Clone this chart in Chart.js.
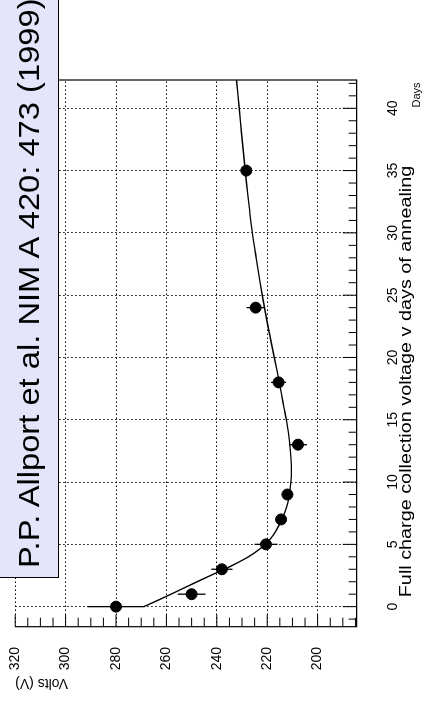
<!DOCTYPE html>
<html>
<head>
<meta charset="utf-8">
<script src="https://cdn.jsdelivr.net/npm/chart.js@4.4.1/dist/chart.umd.min.js"></script>
<style>
  html, body { margin: 0; padding: 0; background: #fff; }
  body { width: 429px; height: 704px; position: relative; overflow: hidden; font-family: "Liberation Sans", Arial, sans-serif; }
  /* the chart is drawn upright and turned a quarter turn to the left */
  #wrap { position: absolute; left: 0; top: 0; width: 704px; height: 429px; transform-origin: 0 0; transform: translateY(704px) rotate(-90deg); }
  #ref { position: absolute; left: 0; top: 0; width: 588px; height: 59px; box-sizing: border-box;
         transform-origin: 0 0; transform: translateY(578px) rotate(-90deg);
         background: #e4e4fa; border-left: 1px solid #000; border-bottom: 1px solid #000;
         font-size: 30px; line-height: 57px; padding-left: 9px; white-space: nowrap; color: #000; }
  #ref span { display: inline-block; transform-origin: 0 50%; transform: scaleX(1.09); }
</style>
</head>
<body>
<div id="wrap"><canvas id="annealChart" width="704" height="429"></canvas></div>
<div id="ref"><span>P.P. Allport et al. NIM A 420: 473 (1999)</span></div>
<script>
// measured points
const days = [0, 1, 3, 5, 7, 9, 13, 18, 24, 35];
const volts = [280, 250, 238, 220.5, 214.5, 212, 207.8, 215.5, 224.6, 228.3];
const voltErr = [11.3, 5.5, 4.2, 4.6, 2, 2.3, 3.6, 3, 3.6, 1.5];

// fitted curve
const fitDays = [0, 0.5, 1, 1.5, 2, 2.5, 3, 3.5, 4, 4.5, 5, 5.5, 6, 7, 8, 9, 10, 11, 12, 13, 14, 15, 16, 17, 18, 20, 22, 24, 26, 28, 30, 32, 34, 36, 38, 40, 42.27];
const fitVolts = [269, 263.5, 258.2, 253, 247.8, 242.5, 237, 232, 227.5, 223.8, 220.8, 218.5, 216.8, 214.2, 212.3, 211.2, 210.6, 210.4, 210.6, 211, 211.6, 212.4, 213.4, 214.3, 215.2, 217.2, 219.2, 221.1, 222.8, 224.4, 225.9, 227.1, 228.2, 229.2, 230.2, 231.1, 232.2];

const dayTicks = [0, 5, 10, 15, 20, 25, 30, 35, 40];
const voltTicks = [200, 220, 240, 260, 280, 300, 320];

const FONT = '"Liberation Sans", Arial, sans-serif';
const TITLE = 'Full charge collection voltage v days of annealing';

// error bars, frame, inward minor ticks, title and the "Days" unit
const plotExtras = {
  id: 'plotExtras',
  beforeDatasetsDraw(chart) {
    const { ctx, scales: { x, y } } = chart;
    ctx.save();
    ctx.strokeStyle = '#000';
    ctx.lineWidth = 1.3;
    days.forEach((d, i) => {
      const px = x.getPixelForValue(d);
      ctx.beginPath();
      ctx.moveTo(px, y.getPixelForValue(volts[i] - voltErr[i]));
      ctx.lineTo(px, y.getPixelForValue(volts[i] + voltErr[i]));
      ctx.stroke();
    });
    ctx.restore();
  },
  afterDraw(chart) {
    const { ctx, chartArea: a, scales: { x, y } } = chart;
    ctx.save();
    ctx.strokeStyle = '#000';
    ctx.lineWidth = 1.2;
    ctx.beginPath();
    ctx.moveTo(a.left, a.top);
    ctx.lineTo(a.left, a.bottom);
    ctx.lineTo(a.right, a.bottom);
    ctx.lineTo(a.right, a.top);
    ctx.stroke();

    ctx.lineWidth = 1;
    ctx.beginPath();
    for (let d = -1; d <= 42; d++) {
      const px = x.getPixelForValue(d);
      const len = d % 5 === 0 ? 14 : 8;
      ctx.moveTo(px, a.bottom);
      ctx.lineTo(px, a.bottom - len);
    }
    for (let v = 185; v <= 320; v += 5) {
      const py = y.getPixelForValue(v);
      const len = v % 20 === 0 ? 12 : 9;
      ctx.moveTo(a.left, py);
      ctx.lineTo(a.left + len, py);
    }
    ctx.stroke();

    ctx.fillStyle = '#000';
    ctx.textAlign = 'center';
    ctx.textBaseline = 'middle';
    // title text is a little wider than the font in the original
    ctx.save();
    ctx.translate(322.5, 406);
    ctx.scale(1.2, 1);
    ctx.font = '16.5px ' + FONT;
    ctx.fillText(TITLE, 0, 0);
    ctx.restore();
    ctx.font = '11px ' + FONT;
    ctx.fillText('Days', 609, 417);
    ctx.restore();
  }
};

new Chart(document.getElementById('annealChart'), {
  type: 'scatter',
  data: {
    datasets: [
      {
        data: fitDays.map((d, i) => ({ x: d, y: fitVolts[i] })),
        showLine: true,
        borderColor: '#000',
        borderWidth: 1.4,
        pointRadius: 0,
        tension: 0.3,
        order: 2
      },
      {
        data: days.map((d, i) => ({ x: d, y: volts[i] })),
        backgroundColor: '#000',
        borderColor: '#000',
        pointRadius: 5.5,
        order: 1
      }
    ]
  },
  options: {
    responsive: false,
    animation: false,
    devicePixelRatio: 1,
    layout: { padding: { top: 15.2, right: 80, bottom: 0, left: 0 } },
    plugins: { legend: { display: false }, tooltip: { enabled: false } },
    scales: {
      x: {
        type: 'linear',
        min: -1.61,
        max: 42.27,
        afterBuildTicks: s => { s.ticks = dayTicks.map(v => ({ value: v })); },
        afterFit: s => { s.height = 72.3; s.paddingLeft = 0; s.paddingRight = 0; },
        grid: { color: '#000', lineWidth: 1, drawTicks: false },
        border: { display: false, dash: [1.5, 2.5] },
        ticks: { padding: 27.9, color: '#000', font: { family: FONT, size: 14 }, maxRotation: 0, autoSkip: false }
      },
      y: {
        type: 'linear',
        min: 184.5,
        max: 320,
        afterBuildTicks: s => { s.ticks = voltTicks.map(v => ({ value: v })); },
        afterFit: s => { s.width = 77.3; s.paddingTop = 0; s.paddingBottom = 0; },
        grid: { color: '#000', lineWidth: 1, drawTicks: false },
        border: { display: false, dash: [1.5, 2.5] },
        ticks: { padding: 20.3, color: '#000', font: { family: FONT, size: 14 }, autoSkip: false },
        title: {
          display: true,
          text: 'Volts (V)',
          align: 'end',
          color: '#000',
          font: { family: FONT, size: 14 },
          padding: { top: 13.1, bottom: 0 }
        }
      }
    }
  },
  plugins: [plotExtras]
});
</script>
</body>
</html>
